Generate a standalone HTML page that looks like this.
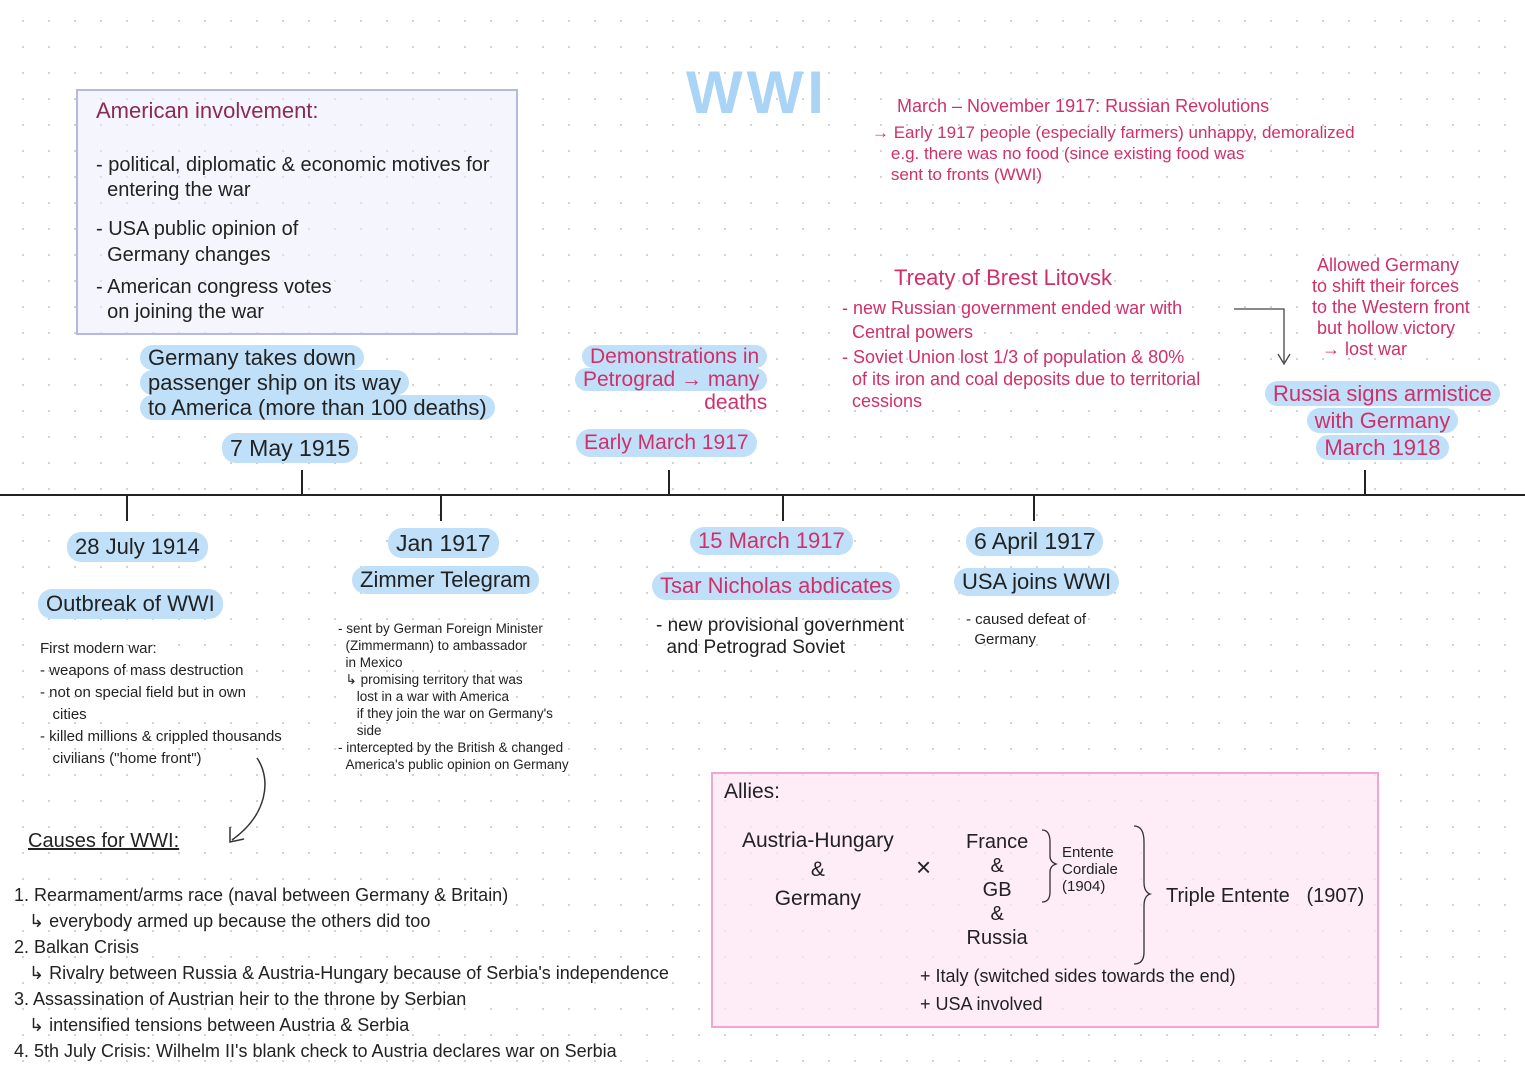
<!DOCTYPE html>
<html><head><meta charset="utf-8"><style>
body{margin:0;width:1525px;height:1080px;position:relative;overflow:hidden;background:#fff;
background-image:radial-gradient(circle,#cfcfcf 1px,transparent 1.3px);background-size:26px 26px;background-position:10px 8px;
font-family:"Liberation Sans",sans-serif;color:#222;}
.a{position:absolute;white-space:nowrap;}
.hl{background:#bfe0f8;border-radius:14px;padding:0 8px;}
.pk{color:#d0306a;}
.s{font-size:15px;line-height:20px;}
</style></head><body>
<div class="a" style="left:686px;top:58px;font-size:60px;color:#a9d4f5;font-weight:bold;letter-spacing:4px">WWI</div>

<div class="a" style="left:76px;top:89px;width:438px;height:242px;border:2px solid #b6b8e0;background:rgba(236,236,252,.55)"></div>
<div class="a" style="left:96px;top:98px;font-size:22px;color:#8a2a55">American involvement:</div>
<div class="a" style="left:96px;top:153px;font-size:20px;line-height:25px">- political, diplomatic &amp; economic motives for<br>&nbsp;&nbsp;entering the war</div>
<div class="a" style="left:96px;top:216px;font-size:20px;line-height:26px">- USA public opinion of<br>&nbsp;&nbsp;Germany changes</div>
<div class="a" style="left:96px;top:275px;font-size:20px;line-height:25px">- American congress votes<br>&nbsp;&nbsp;on joining the war</div>

<div class="a" style="left:140px;top:345px;font-size:22px;line-height:25px"><span class="hl">Germany takes down</span><br><span class="hl">passenger ship on its way</span><br><span class="hl">to America (more than 100 deaths)</span></div>
<div class="a hl" style="left:222px;top:433px;font-size:23px;line-height:30px">7 May 1915</div>

<div class="a pk" style="left:575px;top:345px;font-size:21px;line-height:23px;text-align:right"><span class="hl">Demonstrations in</span><br><span class="hl">Petrograd → many</span><br>deaths</div>
<div class="a hl pk" style="left:576px;top:429px;font-size:21px;line-height:28px">Early March 1917</div>

<div class="a pk" style="left:897px;top:96px;font-size:18px">March – November 1917: Russian Revolutions</div>
<div class="a pk" style="left:872px;top:122px;font-size:17px;line-height:21px">→ Early 1917 people (especially farmers) unhappy, demoralized<br>&nbsp;&nbsp;&nbsp;&nbsp;e.g. there was no food (since existing food was<br>&nbsp;&nbsp;&nbsp;&nbsp;sent to fronts (WWI)</div>

<div class="a pk" style="left:894px;top:265px;font-size:22px">Treaty of Brest Litovsk</div>
<div class="a pk" style="left:842px;top:296px;font-size:18px;line-height:24px">- new Russian government ended war with<br>&nbsp;&nbsp;Central powers</div>
<div class="a pk" style="left:842px;top:346px;font-size:18px;line-height:22px">- Soviet Union lost 1/3 of population &amp; 80%<br>&nbsp;&nbsp;of its iron and coal deposits due to territorial<br>&nbsp;&nbsp;cessions</div>
<svg class="a" style="left:1230px;top:300px" width="70" height="70"><path d="M4 9 H54 V62" stroke="#444" fill="none" stroke-width="1.3"/><path d="M48 54 L54 64 L60 54" stroke="#444" fill="none" stroke-width="1.3"/></svg>
<div class="a pk" style="left:1312px;top:255px;font-size:18px;line-height:21px">&nbsp;Allowed Germany<br>to shift their forces<br>to the Western front<br>&nbsp;but hollow victory<br>&nbsp;&nbsp;→ lost war</div>
<div class="a pk" style="left:1265px;top:380px;font-size:22px;line-height:27px;text-align:center"><span class="hl">Russia signs armistice</span><br><span class="hl">with Germany</span><br><span class="hl">March 1918</span></div>

<div class="a" style="left:0;top:494px;width:1525px;height:2px;background:#222"></div>
<div class="a" style="left:126px;top:495px;width:2px;height:26px;background:#222"></div>
<div class="a" style="left:301px;top:470px;width:2px;height:26px;background:#222"></div>
<div class="a" style="left:440px;top:495px;width:2px;height:26px;background:#222"></div>
<div class="a" style="left:668px;top:470px;width:2px;height:26px;background:#222"></div>
<div class="a" style="left:782px;top:495px;width:2px;height:26px;background:#222"></div>
<div class="a" style="left:1033px;top:495px;width:2px;height:26px;background:#222"></div>
<div class="a" style="left:1364px;top:470px;width:2px;height:26px;background:#222"></div>

<div class="a hl" style="left:67px;top:532px;font-size:22px;line-height:30px">28 July 1914</div>
<div class="a hl" style="left:38px;top:589px;font-size:22px;line-height:30px">Outbreak of WWI</div>
<div class="a s" style="left:40px;top:638px;line-height:22px">First modern war:<br>- weapons of mass destruction<br>- not on special field but in own<br>&nbsp;&nbsp;&nbsp;cities<br>- killed millions &amp; crippled thousands<br>&nbsp;&nbsp;&nbsp;civilians ("home front")</div>
<svg class="a" style="left:222px;top:755px" width="55" height="95"><path d="M35 3 C50 25 45 60 10 85" stroke="#333" fill="none" stroke-width="1.5"/><path d="M8 72 L8 87 L22 84" stroke="#333" fill="none" stroke-width="1.5"/></svg>

<div class="a hl" style="left:388px;top:528px;font-size:23px;line-height:30px">Jan 1917</div>
<div class="a hl" style="left:352px;top:566px;font-size:22px;line-height:28px">Zimmer Telegram</div>
<div class="a" style="left:338px;top:620px;font-size:13.5px;line-height:17px">- sent by German Foreign Minister<br>&nbsp;&nbsp;(Zimmermann) to ambassador<br>&nbsp;&nbsp;in Mexico<br>&nbsp;&nbsp;↳ promising territory that was<br>&nbsp;&nbsp;&nbsp;&nbsp;&nbsp;lost in a war with America<br>&nbsp;&nbsp;&nbsp;&nbsp;&nbsp;if they join the war on Germany's<br>&nbsp;&nbsp;&nbsp;&nbsp;&nbsp;side<br>- intercepted by the British &amp; changed<br>&nbsp;&nbsp;America's public opinion on Germany</div>

<div class="a hl pk" style="left:690px;top:527px;font-size:22px;line-height:28px">15 March 1917</div>
<div class="a hl pk" style="left:652px;top:572px;font-size:22px;line-height:28px">Tsar Nicholas abdicates</div>
<div class="a" style="left:656px;top:615px;font-size:19px;line-height:22px">- new provisional government<br>&nbsp;&nbsp;and Petrograd Soviet</div>

<div class="a hl" style="left:966px;top:527px;font-size:23px;line-height:29px">6 April 1917</div>
<div class="a hl" style="left:954px;top:568px;font-size:22px;line-height:28px">USA joins WWI</div>
<div class="a s" style="left:966px;top:610px">- caused defeat of<br>&nbsp;&nbsp;Germany</div>

<div class="a" style="left:28px;top:830px;font-size:20px;text-decoration:underline">Causes for WWI:</div>
<div class="a" style="left:14px;top:882px;font-size:18px;line-height:26px">1. Rearmament/arms race (naval between Germany &amp; Britain)<br>&nbsp;&nbsp;&nbsp;↳ everybody armed up because the others did too<br>2. Balkan Crisis<br>&nbsp;&nbsp;&nbsp;↳ Rivalry between Russia &amp; Austria-Hungary because of Serbia's independence<br>3. Assassination of Austrian heir to the throne by Serbian<br>&nbsp;&nbsp;&nbsp;↳ intensified tensions between Austria &amp; Serbia<br>4. 5th July Crisis: Wilhelm II's blank check to Austria declares war on Serbia</div>

<div class="a" style="left:711px;top:772px;width:664px;height:252px;border:2px solid #f2a6cf;background:rgba(253,230,244,.75)"></div>
<div class="a" style="left:724px;top:780px;font-size:21px">Allies:</div>
<div class="a" style="left:742px;top:826px;font-size:21px;line-height:29px;text-align:center">Austria-Hungary<br>&amp;<br>Germany</div>
<div class="a" style="left:916px;top:852px;font-size:26px">×</div>
<div class="a" style="left:966px;top:830px;font-size:20px;line-height:24px;text-align:center">France<br>&amp;<br>GB<br>&amp;<br>Russia</div>
<svg class="a" style="left:1038px;top:822px" width="120" height="150"><path d="M4 8 Q12 8 12 20 V34 Q12 40 18 42 Q12 44 12 50 V70 Q12 80 4 80" stroke="#333" fill="none" stroke-width="1.3"/><path d="M96 4 Q106 4 106 20 V60 Q106 70 112 72 Q106 74 106 84 V130 Q106 142 96 142" stroke="#333" fill="none" stroke-width="1.3"/></svg>
<div class="a" style="left:1062px;top:844px;font-size:15px;line-height:17px">Entente<br>Cordiale<br>(1904)</div>
<div class="a" style="left:1166px;top:885px;font-size:20px">Triple Entente &nbsp;&nbsp;(1907)</div>
<div class="a" style="left:920px;top:962px;font-size:18px;line-height:28px">+ Italy (switched sides towards the end)<br>+ USA involved</div>
</body></html>
